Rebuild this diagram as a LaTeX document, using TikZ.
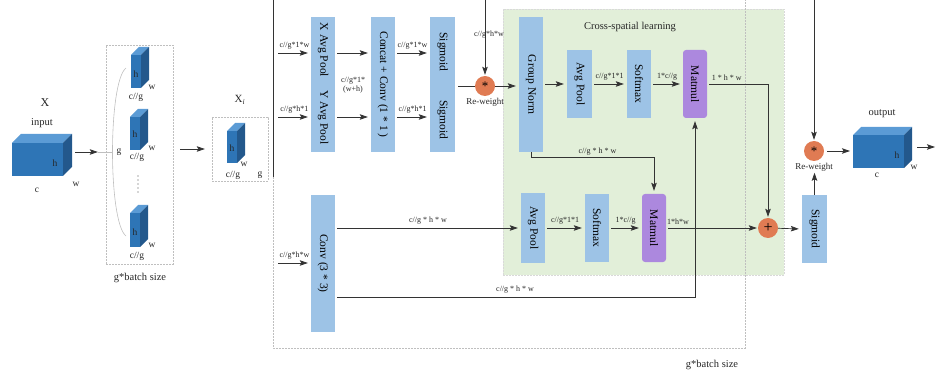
\documentclass[tikz,border=0pt]{standalone}
\usepackage{fontspec}
\setmainfont{Liberation Serif}
\usepackage{graphicx}
\usetikzlibrary{arrows.meta, positioning, calc}

\definecolor{boxblue}{HTML}{9DC3E6}
\definecolor{matpurple}{HTML}{AC88DE}
\definecolor{opcolor}{HTML}{E07B53}
\definecolor{greenbg}{HTML}{E2EFD9}
\definecolor{cubefront}{HTML}{2E75B6}
\definecolor{cubetop}{HTML}{5B9BD5}
\definecolor{cubeside}{HTML}{23588C}

% feature cube: x, y (front top-left), width, height, depth
\newcommand{\featcube}[5]{%
  \fill[cubefront] (#1,#2) rectangle ++(#3,#4);
  \fill[cubetop] (#1,#2) -- ++(#5,-#5) -- ++(#3,0) -- ++(-#5,#5) -- cycle;
  \fill[cubeside] (#1+#3,#2) -- ++(#5,-#5) -- ++(0,#4) -- ++(-#5,#5) -- cycle;
}

\begin{document}
\begin{tikzpicture}[
    x=1pt, y=-1pt,
    opbox/.style={rectangle, fill=boxblue, inner sep=0pt, minimum width=24pt, font=\fontsize{11.5}{12}\selectfont},
    matbox/.style={opbox, fill=matpurple, rounded corners=3pt},
    opcircle/.style={circle, fill=opcolor, minimum size=20pt, inner sep=0pt, font=\fontsize{13}{13}\selectfont},
    arrow/.style={-{Stealth[length=8pt, width=5.5pt, inset=1.5pt]}, line width=0.7pt, draw=black!80, shorten >=3pt, shorten <=2pt},
    conn/.style={line width=0.7pt, draw=black!80},
    dimlabel/.style={font=\fontsize{8}{9}\selectfont, inner sep=1pt, text=black!85},
    cubelabel/.style={font=\fontsize{9.5}{10}\selectfont, inner sep=0pt, text=black!85},
    textlabel/.style={font=\fontsize{10.5}{11}\selectfont, inner sep=0pt, text=black!85},
    dashbox/.style={rectangle, draw=black!25, dash pattern=on 2pt off 1pt, line width=0.4pt, inner sep=0pt}
]
    \useasboundingbox (0,0) rectangle (936,379);

    % input tensor
    \featcube{12}{143}{51}{33}{9}
    \node[textlabel, font=\fontsize{12}{12}\selectfont] (xname) at (45,103) {X};
    \node[textlabel] (inname) at (42,123) {input};
    \node[cubelabel] at (55,163) {h};
    \node[cubelabel] at (37,190) {c};
    \node[cubelabel] at (76,184) {w};

    % grouped sub-features
    \node[dashbox, minimum width=67pt, minimum height=219pt] (grp) at (139.5,154.5) {};
    \draw[black!25, line width=0.6pt] (126,68) .. controls (108,82) and (108,222) .. (126,236);
    \featcube{131}{55}{10}{33}{8}
    \featcube{130}{117}{10}{33}{8}
    \featcube{130}{213}{10}{34}{8}
    \node[cubelabel] at (136,74) {h};
    \node[cubelabel] at (152,87) {w};
    \node[cubelabel] at (136,97) {c//g};
    \node[cubelabel] at (135,134) {h};
    \node[cubelabel] at (152,148) {w};
    \node[cubelabel] at (137,157) {c//g};
    \node[cubelabel] at (135,232) {h};
    \node[cubelabel] at (152,245) {w};
    \node[cubelabel] at (137,256) {c//g};
    \foreach \k in {0,...,4}
        \fill[black!70] (138,176+4*\k) circle (0.6pt);
    \node[cubelabel] (gname) at (119,152) {g};
    \node[textlabel] (grplbl) at (140,278) {g*batch size};

    % one group X_i
    \node[dashbox, minimum width=56pt, minimum height=64pt] (xibox) at (240,149) {};
    \featcube{227}{131}{10}{32}{8}
    \node[textlabel, font=\fontsize{11}{11}\selectfont] (xiname) at (240,100) {X\textsubscript{\textit{i}}};
    \node[cubelabel] at (232,148) {h};
    \node[cubelabel] at (244,164) {w};
    \node[cubelabel] at (233,175) {c//g};
    \node[cubelabel] at (260,175) {g};

    \coordinate (xin) at (75,152);
    \draw[arrow, shorten <=0pt, shorten >=8pt] (xin) -- (grp.west |- xin);
    \draw[black!25, line width=0.6pt] ($(grp.west |- xin)+(-8,0)$) -- ++(14,0);
    \draw[arrow, shorten <=7pt, shorten >=7pt] (grp.east |- xibox.west) -- (xibox.west);

    % cross-spatial learning area
    \node[rectangle, fill=greenbg, draw=black!15, dash pattern=on 2pt off 1pt, line width=0.4pt,
          minimum width=281pt, minimum height=266pt, inner sep=0pt] (cross) at (643.5,142) {};
    \node[textlabel] (crossname) at (630,27) {Cross-spatial learning};

    % outer frame
    \draw[conn] (273,0) -- (273,177);
    \draw[dashbox] (273,177) -- (273,348) -- (745,348) -- (745,0);
    \node[textlabel] (batchlbl) at (712,365) {g*batch size};

    % 1x1 branch
    \node[opbox, minimum height=66pt] (xpool) at (323,50) {\rotatebox{-90}{X Avg Pool}};
    \node[opbox, minimum height=69pt] (ypool) at (323,117.5) {\rotatebox{-90}{Y Avg Pool}};
    \node[opbox, minimum height=135pt] (concat) at (383,84.5) {\rotatebox{-90}{Concat + Conv (1 * 1 )}};
    \node[opbox, minimum width=25pt, minimum height=70pt] (sigx) at (442.5,52) {\rotatebox{-90}{Sigmoid}};
    \node[opbox, minimum width=25pt, minimum height=65pt] (sigy) at (442.5,119.5) {\rotatebox{-90}{Sigmoid}};
    \node[opcircle] (rw1) at (485,86) {*};
    \node[dimlabel, font=\fontsize{9}{9}\selectfont, below=1pt of rw1] (rw1lbl) {Re-weight};

    % 3x3 branch
    \node[opbox, minimum height=137pt] (conv) at (323,263.5) {\rotatebox{-90}{Conv (3 * 3)}};

    % cross-spatial boxes
    \node[opbox, minimum height=135pt] (gnorm) at (531,84.5) {\rotatebox{-90}{Group Norm}};
    \node[opbox, minimum width=25pt, minimum height=68pt] (pool1) at (579.5,84) {\rotatebox{-90}{Avg Pool}};
    \node[opbox, minimum height=68pt] (soft1) at (639,84) {\rotatebox{-90}{Softmax}};
    \node[matbox, minimum height=68pt] (mat1) at (695,84) {\rotatebox{-90}{Matmul}};
    \node[opbox, minimum height=69pt] (pool2) at (533,228) {\rotatebox{-90}{Avg Pool}};
    \node[opbox, minimum height=67pt] (soft2) at (597,228) {\rotatebox{-90}{Softmax}};
    \node[matbox, minimum height=68pt] (mat2) at (654,228) {\rotatebox{-90}{Matmul}};
    \node[opcircle, font=\fontsize{16}{16}\selectfont] (plus) at (768,228) {+};

    % output side
    \node[opbox, minimum width=25pt, minimum height=68pt] (sig3) at (814.5,229) {\rotatebox{-90}{Sigmoid}};
    \node[opcircle] (rw2) at (814,151) {*};
    \node[dimlabel, font=\fontsize{9}{9}\selectfont, below=1pt of rw2] (rw2lbl) {Re-weight};
    \featcube{853}{135}{51}{33}{8}
    \node[textlabel] (outname) at (882,114) {output};
    \node[cubelabel] at (897,155) {h};
    \node[cubelabel] at (877,175) {c};
    \node[cubelabel] at (914,167) {w};

    % connectors, 1x1 branch
    \coordinate (inx) at (278,53);
    \coordinate (iny) at (278,117);
    \draw[arrow, shorten <=0pt] (inx) -- (xpool.west |- inx) node[dimlabel, midway, above=2.5pt] {c//g*1*w};
    \draw[arrow, shorten <=0pt] (iny) -- (ypool.west |- iny) node[dimlabel, midway, above=2.5pt] {c//g*h*1};
    \draw[arrow] (xpool.east |- inx) -- (concat.west |- inx);
    \draw[arrow] (ypool.east |- iny) -- (concat.west |- iny);
    \node[dimlabel, align=center] (catlbl) at (353,85) {c//g*1*\\(w+h)};
    \draw[arrow] (concat.east |- inx) -- (sigx.west |- inx) node[dimlabel, midway, above=2.5pt] {c//g*1*w};
    \draw[arrow] (concat.east |- iny) -- (sigy.west |- iny) node[dimlabel, midway, above=2.5pt] {c//g*h*1};
    \draw[conn, shorten <=3pt] (sigx.east |- rw1) -- (rw1);
    \coordinate (topa) at (485,0);
    \draw[arrow, shorten <=0pt, shorten >=1pt] (topa) -- (rw1);
    \node[dimlabel] (toplbl) at (489,35) {c//g*h*w};
    \draw[arrow, shorten <=0pt] (rw1) -- (gnorm.west |- rw1);

    % connectors, cross-spatial learning
    \draw[arrow] (gnorm.east |- pool1) -- (pool1.west);
    \draw[arrow] (pool1) -- (soft1) node[dimlabel, midway, above=2.5pt] {c//g*1*1};
    \draw[arrow] (soft1) -- (mat1) node[dimlabel, midway, above=2.5pt] {1*c//g};
    \draw[arrow, shorten >=1pt] (mat1.east) -| node[dimlabel, pos=0.16, above=2.5pt] {1 * h * w} (plus.north);
    \draw[arrow, shorten <=0pt] (gnorm.south) -- ++(0,5) -| node[dimlabel, pos=0.27, above=1pt] {c//g * h * w} (mat2.north);

    % connectors, 3x3 branch
    \coordinate (inc) at (278,263);
    \draw[arrow, shorten <=0pt] (inc) -- (conv.west |- inc) node[dimlabel, midway, above=2.5pt] {c//g*h*w};
    \draw[arrow] (conv.east |- pool2) -- (pool2.west) node[dimlabel, midway, above=2pt] {c//g * h * w};
    \draw[arrow] (pool2) -- (soft2) node[dimlabel, midway, above=2.5pt] {c//g*1*1};
    \draw[arrow] (soft2) -- (mat2) node[dimlabel, midway, above=2.5pt] {1*c//g};
    \draw[arrow, shorten >=1pt] (mat2) -- (plus) node[dimlabel, pos=0.13, above=2.5pt] {1*h*w};
    \draw[arrow] (conv.east |- 0,297) -| node[dimlabel, pos=0.25, above=2.5pt] {c//g * h * w} (mat1.south);

    % connectors, output side
    \draw[arrow, shorten <=0pt] (plus) -- (sig3.west);
    \draw[arrow, shorten <=0pt, shorten >=0pt] (sig3.north) -- (sig3.north |- rw2lbl.south);
    \coordinate (topb) at (814,0);
    \draw[arrow, shorten <=0pt, shorten >=1pt] (topb) -- (rw2);
    \coordinate (outw) at (853,151);
    \draw[arrow, shorten <=3pt] (rw2) -- (outw);
    \coordinate (oute) at (914,147);
    \coordinate (outend) at (936,147);
    \draw[arrow, shorten <=3pt, shorten >=1pt] (oute) -- (outend);
\end{tikzpicture}
\end{document}
